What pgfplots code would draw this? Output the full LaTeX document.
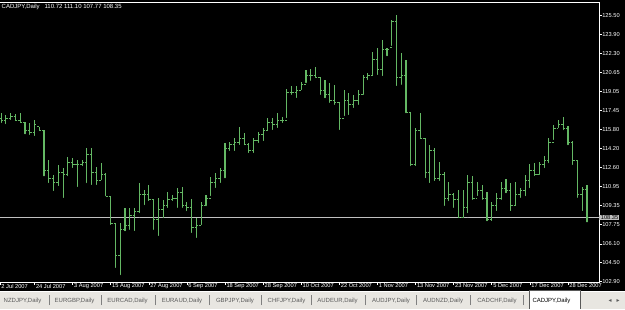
\documentclass[border=0pt]{standalone}
\usepackage{fontspec}
\setmainfont{Liberation Sans}
\newfontfamily\symfont{DejaVu Sans}
\usepackage{pgfplots}
\pgfplotsset{compat=1.18}
\usepackage{pgfplotstable}
\definecolor{barcol}{RGB}{100,184,100}
\definecolor{bidline}{RGB}{192,192,192}
\definecolor{tabbg}{RGB}{232,230,225}
\definecolor{tabtxt}{RGB}{90,90,90}
\pgfdeclareplotmark{openmk}{\pgfpathmoveto{\pgfqpoint{-1.9bp}{0pt}}\pgfpathlineto{\pgfqpoint{0pt}{0pt}}\pgfusepathqstroke}
\pgfdeclareplotmark{closemk}{\pgfpathmoveto{\pgfqpoint{0pt}{0pt}}\pgfpathlineto{\pgfqpoint{1.9bp}{0pt}}\pgfusepathqstroke}
\pgfplotstableread{
k O H L C
0 116.79 117.22 116.20 116.62
1 116.62 117.05 116.11 116.79
2 116.79 117.22 116.45 116.88
3 116.88 117.13 116.37 116.62
4 116.62 117.22 116.28 116.37
5 116.37 116.45 115.26 115.77
6 115.77 116.37 115.18 115.52
7 115.52 116.62 115.09 116.20
8 116.03 116.03 115.52 115.69
9 115.69 115.77 111.69 112.37
10 112.37 113.22 111.10 111.69
11 111.69 111.95 110.42 111.35
12 111.35 112.80 110.84 112.20
13 112.20 112.54 109.83 111.95
14 111.95 113.48 111.69 113.05
15 113.05 113.39 112.37 112.80
16 112.80 113.22 110.76 112.80
17 112.80 113.22 112.54 112.97
18 112.97 114.24 111.10 113.65
19 113.65 114.24 110.93 112.20
20 112.20 112.63 110.93 111.52
21 111.52 112.97 111.35 111.95
22 111.95 112.12 109.99 110.08
23 110.08 110.08 107.53 107.87
24 107.87 107.87 103.88 105.15
25 105.15 107.87 103.28 107.28
26 107.28 109.15 107.02 107.70
27 107.70 109.15 107.11 108.55
28 108.55 109.15 107.02 108.81
29 108.81 111.27 108.55 110.25
30 110.25 110.67 109.23 110.25
31 110.25 111.10 109.57 109.83
32 109.83 109.83 107.11 108.13
33 108.13 109.99 106.60 108.98
34 108.98 109.83 108.13 109.40
35 109.40 110.50 108.98 109.83
36 109.83 110.25 109.57 109.99
37 109.99 110.84 108.98 110.50
38 110.50 110.93 108.98 109.40
39 109.40 109.66 108.72 109.15
40 109.15 109.91 106.85 107.45
41 107.45 108.30 106.43 107.70
42 107.70 109.66 107.53 109.40
43 109.40 110.25 109.15 109.99
44 109.99 111.78 109.99 111.35
45 111.35 112.12 110.67 111.69
46 111.69 112.54 111.10 112.37
47 112.37 114.67 111.52 114.24
48 114.24 114.75 113.82 114.50
49 114.50 115.09 113.82 114.75
50 114.75 116.03 114.33 115.09
51 115.09 115.52 114.33 114.50
52 114.50 114.67 113.65 114.07
53 114.07 115.09 113.65 114.92
54 114.92 115.60 114.50 115.35
55 115.35 115.94 114.67 115.77
56 115.77 116.79 115.52 116.45
57 116.45 116.79 115.60 116.20
58 116.20 117.22 115.77 116.62
59 116.62 116.88 116.20 116.62
60 116.62 119.26 116.62 119.00
61 119.00 119.51 118.58 119.00
62 119.00 119.51 118.32 119.17
63 119.17 119.85 119.00 119.60
64 119.60 120.87 119.60 120.44
65 120.44 120.95 119.77 120.44
66 120.44 121.12 120.02 120.19
67 120.19 120.27 118.58 119.17
68 119.17 120.02 118.32 118.75
69 118.75 119.77 117.90 118.32
70 118.32 119.60 117.73 118.07
71 118.07 118.15 115.60 116.79
72 116.79 119.17 116.79 118.32
73 118.32 118.92 116.88 117.90
74 117.90 118.75 117.47 118.32
75 118.32 119.17 117.73 118.75
76 118.75 120.44 118.58 120.19
77 120.19 120.61 119.85 120.36
78 120.36 122.40 120.27 121.72
79 121.72 122.74 120.27 120.87
80 120.87 123.42 120.19 122.57
81 122.57 122.74 121.89 122.57
82 122.74 125.12 122.74 124.95
83 124.95 125.54 119.34 120.19
84 120.19 122.31 119.43 120.44
85 120.44 121.72 117.05 117.22
86 117.22 117.30 112.54 112.80
87 112.80 115.94 112.54 115.77
88 115.77 117.22 114.92 115.09
89 115.09 115.09 111.52 112.20
90 112.20 114.50 111.10 114.07
91 114.07 114.24 111.27 111.69
92 111.69 113.05 111.27 111.95
93 111.95 112.20 109.15 109.99
94 109.99 111.35 109.57 110.25
95 110.25 110.42 108.98 109.83
96 109.83 110.67 108.13 108.30
97 108.30 110.67 108.13 109.23
98 109.23 111.95 108.55 111.35
99 111.35 111.86 109.66 109.99
100 109.99 111.35 109.99 110.67
101 110.67 111.10 109.66 109.99
102 109.99 110.50 107.87 108.13
103 108.13 109.66 107.87 109.40
104 109.40 110.42 108.72 109.99
105 109.99 111.35 109.66 110.84
106 110.84 111.61 110.25 110.67
107 110.67 111.27 108.72 109.40
108 109.40 111.35 109.15 110.25
109 110.25 110.84 109.83 110.67
110 110.67 111.95 109.99 111.52
111 111.52 112.88 110.67 112.37
112 112.37 112.97 111.69 111.95
113 111.95 113.05 111.78 112.80
114 112.80 113.56 112.37 113.22
115 113.22 115.09 112.80 114.75
116 114.75 116.20 114.75 115.94
117 115.94 116.62 115.77 116.20
118 116.20 116.88 115.60 115.94
119 115.94 116.11 114.33 114.75
120 114.75 114.84 112.63 113.22
121 113.22 113.22 109.83 110.25
122 110.25 110.93 108.72 110.72
123 110.72 111.10 107.77 108.35
}\ohlc
\begin{document}
\begin{tikzpicture}[x=1bp,y=1bp]
\fill[black] (0,0) rectangle (625,309);
\useasboundingbox (0,0) rectangle (625,309);
% tab strip
\fill[tabbg] (0,0) rectangle (625,18);
\draw[white, line width=0.8bp] (0,18) -- (625,18);
\fill[white] (529,0.5) rectangle (580,18.5);
\draw[gray!70!black, line width=0.6bp] (529,0.5) -- (529,18.5) -- (580,18.5) -- (580,0.5);
\foreach \sx in {49,101,155,209,261,311.5,365,416,470,523}{
  \draw[gray, line width=0.6bp] (\sx,4) -- (\sx,14);
}
\begin{scope}[every node/.style={font=\fontsize{6bp}{7bp}\selectfont, text=tabtxt, inner sep=0pt}]
\node at (22.5,8.5) {NZDJPY,Daily};
\node at (74.5,8.5) {EURGBP,Daily};
\node at (127.5,8.5) {EURCAD,Daily};
\node at (182,8.5) {EURAUD,Daily};
\node at (235,8.5) {GBPJPY,Daily};
\node at (286.5,8.5) {CHFJPY,Daily};
\node at (337.5,8.5) {AUDEUR,Daily};
\node at (391,8.5) {AUDJPY,Daily};
\node at (443,8.5) {AUDNZD,Daily};
\node at (497,8.5) {CADCHF,Daily};
\node[text=black] at (551.5,8.5) {CADJPY,Daily};
\node at (610,8.5) {\symfont ◂};
\node at (618,8.5) {\symfont ▸};
\end{scope}
% header
\node[anchor=west, text=white, inner sep=0pt, font=\fontsize{6bp}{7bp}\selectfont] at (1.5,302.3) {CADJPY,Daily\ \ \ 110.72 111.10 107.77 108.35};
\begin{axis}[at={(0,27bp)}, anchor=south west, scale only axis,
  width=599bp, height=280bp,
  xmin=-0.244, xmax=125.52, ymin=102.858, ymax=126.647,
  axis line style={draw=none},
  ytick={125.5,123.9,122.3,120.65,119.05,117.45,115.8,114.2,112.6,110.95,109.35,107.75,106.1,104.5,102.9},
  yticklabels={125.50,123.90,122.30,120.65,119.05,117.45,115.80,114.20,112.60,110.95,109.35,107.75,106.10,104.50,102.90},
  xtick={-0.244,7,15,23,31,39,47,55,63,71,79,87,95,103,111,119},
  xticklabels={2 Jul 2007,24 Jul 2007,3 Aug 2007,15 Aug 2007,27 Aug 2007,6 Sep 2007,18 Sep 2007,28 Sep 2007,10 Oct 2007,22 Oct 2007,1 Nov 2007,13 Nov 2007,23 Nov 2007,5 Dec 2007,17 Dec 2007,28 Dec 2007},
  xtick pos=left, ytick pos=right, yticklabel pos=right,
  tick align=outside, major tick length=2.5bp,
  tick style={white, line width=0.6bp},
  ticklabel style={font=\fontsize{5.7bp}{6bp}\selectfont, text=white},
  yticklabel style={anchor=west, inner sep=0.6bp},
  xticklabel style={anchor=north west, inner sep=0.5bp, xshift=0.8bp, yshift=1.2bp},
  clip=false,
]
\addplot[bidline, line width=0.8bp, forget plot] coordinates {(-0.244,108.35) (125.52,108.35)};
\addplot[only marks, mark=none, forget plot,
  error bars/.cd, y dir=plus, y explicit, error mark=none,
  error bar style={barcol, line width=1.1bp}]
  table[x=k, y=L, y error plus expr=\thisrow{H}-\thisrow{L}] {\ohlc};
\addplot[only marks, mark=openmk, mark options={barcol, line width=1bp}, forget plot]
  table[x=k, y=O] {\ohlc};
\addplot[only marks, mark=closemk, mark options={barcol, line width=1bp}, forget plot]
  table[x=k, y=C] {\ohlc};
\draw[white, line width=0.8bp] (rel axis cs:0,1) -- (rel axis cs:1,1) -- (rel axis cs:1,0) -- (rel axis cs:0,0);
\node[anchor=west, fill=bidline, text=black, inner sep=0.7bp, font=\fontsize{5.7bp}{6bp}\selectfont] at (axis cs:125.52,108.35) {\,108.35};
\end{axis}
\end{tikzpicture}
\end{document}
